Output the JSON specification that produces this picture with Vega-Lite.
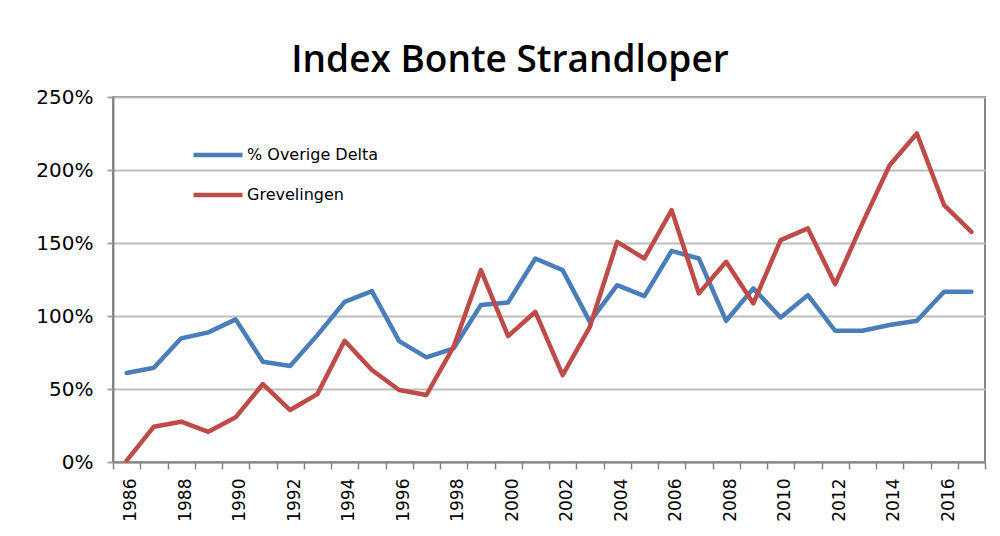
{
  "$schema": "https://vega.github.io/schema/vega-lite/v6.json",
  "width": 872,
  "height": 365,
  "autosize": "none",
  "padding": {"left": 113, "top": 97, "right": 15, "bottom": 74},
  "background": "white",
  "title": {"text": "Index Bonte Strandloper", "font": "Open Sans", "fontSize": 37, "fontWeight": 600, "color": "#000000", "anchor": "middle", "dx": -39, "offset": 7},
  "data": {"values": [
    {"year": 1986, "series": "% Overige Delta", "value": 0.61},
    {"year": 1987, "series": "% Overige Delta", "value": 0.645},
    {"year": 1988, "series": "% Overige Delta", "value": 0.847},
    {"year": 1989, "series": "% Overige Delta", "value": 0.888},
    {"year": 1990, "series": "% Overige Delta", "value": 0.977},
    {"year": 1991, "series": "% Overige Delta", "value": 0.687},
    {"year": 1992, "series": "% Overige Delta", "value": 0.657},
    {"year": 1993, "series": "% Overige Delta", "value": 0.869},
    {"year": 1994, "series": "% Overige Delta", "value": 1.097},
    {"year": 1995, "series": "% Overige Delta", "value": 1.17},
    {"year": 1996, "series": "% Overige Delta", "value": 0.828},
    {"year": 1997, "series": "% Overige Delta", "value": 0.717},
    {"year": 1998, "series": "% Overige Delta", "value": 0.778},
    {"year": 1999, "series": "% Overige Delta", "value": 1.075},
    {"year": 2000, "series": "% Overige Delta", "value": 1.093},
    {"year": 2001, "series": "% Overige Delta", "value": 1.394},
    {"year": 2002, "series": "% Overige Delta", "value": 1.314},
    {"year": 2003, "series": "% Overige Delta", "value": 0.96},
    {"year": 2004, "series": "% Overige Delta", "value": 1.211},
    {"year": 2005, "series": "% Overige Delta", "value": 1.136},
    {"year": 2006, "series": "% Overige Delta", "value": 1.446},
    {"year": 2007, "series": "% Overige Delta", "value": 1.394},
    {"year": 2008, "series": "% Overige Delta", "value": 0.967},
    {"year": 2009, "series": "% Overige Delta", "value": 1.189},
    {"year": 2010, "series": "% Overige Delta", "value": 0.99},
    {"year": 2011, "series": "% Overige Delta", "value": 1.143},
    {"year": 2012, "series": "% Overige Delta", "value": 0.899},
    {"year": 2013, "series": "% Overige Delta", "value": 0.899},
    {"year": 2014, "series": "% Overige Delta", "value": 0.938},
    {"year": 2015, "series": "% Overige Delta", "value": 0.967},
    {"year": 2016, "series": "% Overige Delta", "value": 1.166},
    {"year": 2017, "series": "% Overige Delta", "value": 1.166},
    {"year": 1986, "series": "Grevelingen", "value": 0.01},
    {"year": 1987, "series": "Grevelingen", "value": 0.242},
    {"year": 1988, "series": "Grevelingen", "value": 0.276},
    {"year": 1989, "series": "Grevelingen", "value": 0.207},
    {"year": 1990, "series": "Grevelingen", "value": 0.306},
    {"year": 1991, "series": "Grevelingen", "value": 0.534},
    {"year": 1992, "series": "Grevelingen", "value": 0.356},
    {"year": 1993, "series": "Grevelingen", "value": 0.465},
    {"year": 1994, "series": "Grevelingen", "value": 0.83},
    {"year": 1995, "series": "Grevelingen", "value": 0.63},
    {"year": 1996, "series": "Grevelingen", "value": 0.493},
    {"year": 1997, "series": "Grevelingen", "value": 0.459},
    {"year": 1998, "series": "Grevelingen", "value": 0.79},
    {"year": 1999, "series": "Grevelingen", "value": 1.314},
    {"year": 2000, "series": "Grevelingen", "value": 0.862},
    {"year": 2001, "series": "Grevelingen", "value": 1.029},
    {"year": 2002, "series": "Grevelingen", "value": 0.595},
    {"year": 2003, "series": "Grevelingen", "value": 0.926},
    {"year": 2004, "series": "Grevelingen", "value": 1.508},
    {"year": 2005, "series": "Grevelingen", "value": 1.394},
    {"year": 2006, "series": "Grevelingen", "value": 1.725},
    {"year": 2007, "series": "Grevelingen", "value": 1.155},
    {"year": 2008, "series": "Grevelingen", "value": 1.371},
    {"year": 2009, "series": "Grevelingen", "value": 1.086},
    {"year": 2010, "series": "Grevelingen", "value": 1.52},
    {"year": 2011, "series": "Grevelingen", "value": 1.6},
    {"year": 2012, "series": "Grevelingen", "value": 1.218},
    {"year": 2013, "series": "Grevelingen", "value": 1.634},
    {"year": 2014, "series": "Grevelingen", "value": 2.033},
    {"year": 2015, "series": "Grevelingen", "value": 2.25},
    {"year": 2016, "series": "Grevelingen", "value": 1.759},
    {"year": 2017, "series": "Grevelingen", "value": 1.576}
  ]},
  "mark": {"type": "line", "strokeWidth": 4.5, "strokeCap": "round", "strokeJoin": "round"},
  "encoding": {
    "x": {
      "field": "year",
      "type": "ordinal",
      "bandPosition": 0.5,
      "scale": {"type": "band", "paddingInner": 0, "paddingOuter": 0},
      "axis": {
        "title": null,
        "tickBand": "extent",
        "tickExtra": true,
        "labelOffset": 4,
        "labelExpr": "toNumber(datum.value) % 2 === 0 ? datum.label : ''",
        "labelAngle": -90,
        "labelOverlap": false,
        "labelFont": "DejaVu Sans",
        "labelFontSize": 17,
        "labelColor": "#000000",
        "labelPadding": 9,
        "grid": false,
        "tickSize": 7,
        "tickWidth": 1.5,
        "tickColor": "#868686",
        "domainColor": "#868686",
        "domainWidth": 2
      }
    },
    "y": {
      "field": "value",
      "type": "quantitative",
      "scale": {"domain": [0, 2.5], "nice": false},
      "axis": {
        "title": null,
        "values": [0, 0.5, 1, 1.5, 2, 2.5],
        "format": ".0%",
        "labelFont": "DejaVu Sans",
        "labelFontSize": 20,
        "labelColor": "#000000",
        "labelPadding": 14,
        "grid": true,
        "gridColor": "#bdbdbd",
        "gridWidth": 2,
        "tickSize": 6,
        "tickWidth": 2,
        "tickColor": "#a6a6a6",
        "domainColor": "#868686",
        "domainWidth": 2
      }
    },
    "color": {
      "field": "series",
      "type": "nominal",
      "scale": {"domain": ["% Overige Delta", "Grevelingen"], "range": ["#4a7ebb", "#be4b48"]},
      "legend": {
        "title": null,
        "orient": "none",
        "legendX": 78,
        "legendY": 31,
        "padding": 0,
        "symbolType": "stroke",
        "symbolSize": 2400,
        "symbolStrokeWidth": 4.5,
        "labelFont": "DejaVu Sans",
        "labelFontSize": 16,
        "labelColor": "#000000",
        "labelOffset": 2,
        "rowPadding": 4
      }
    }
  },
  "config": {"view": {"stroke": "#868686", "strokeWidth": 2}}
}
